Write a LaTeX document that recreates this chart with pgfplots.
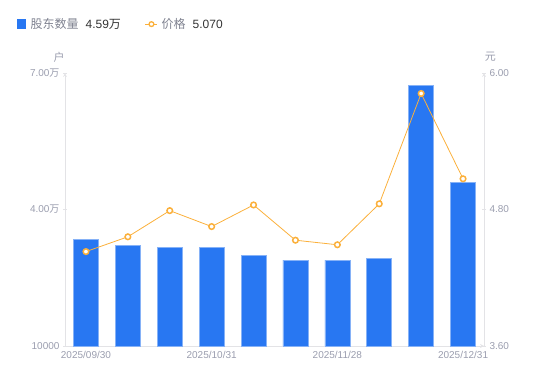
\documentclass[border=0pt]{standalone}
\usepackage{pgfplots}
\pgfplotsset{compat=1.18}
\usepackage{fontspec}
\setmainfont{Liberation Sans}
\newfontfamily\cjk{Noto Sans CJK SC}
\definecolor{barblue}{HTML}{2877F2}
\definecolor{baredge}{HTML}{86B2F7}
\definecolor{lineor}{HTML}{FBB03B}
\definecolor{tickgray}{HTML}{9A9DAE}
\definecolor{axgray}{HTML}{E3E3E6}
\definecolor{legtext}{HTML}{7F8290}
\definecolor{valtext}{HTML}{333333}
\pgfplotstableread{
x holders price
0 33500 4.43
1 32100 4.56
2 31700 4.79
3 31600 4.65
4 30000 4.84
5 28900 4.53
6 28900 4.49
7 29300 4.85
8 67200 5.82
9 45900 5.07
}\datatable
\begin{document}
\begin{tikzpicture}
\path[use as bounding box] (0,0) rectangle (550pt,381pt);
\pgfplotsset{
  common/.style={
    scale only axis, width=419pt, height=273pt,
    at={(65pt,35pt)}, anchor=south west,
    xmin=-0.5, xmax=9.5, clip=false,
    axis line style={draw=axgray, line width=0.8pt, -},
    tick align=outside, major tick length=4pt,
    tick style={draw=axgray, line width=0.8pt},
    ticklabel style={font=\fontsize{10}{12}\selectfont, text=tickgray},
    scaled y ticks=false,
    /pgf/number format/assume math mode=true,
  }
}
\begin{axis}[common,
  axis y line=left, axis x line=bottom,
  ymin=10000, ymax=70000,
  ytick={10000,40000,70000},
  yticklabels={10000,{4.00{\cjk 万}},{7.00{\cjk 万}}},
  xtick={0,3,6,9},
  xticklabels={2025/09/30,2025/10/31,2025/11/28,2025/12/31},
  xtick style={draw=none},
  legend columns=2,
  legend style={at={(-0.115,1.179)}, anchor=west, draw=none, fill=none,
    font=\fontsize{12}{14}\selectfont, inner sep=0pt,
    /tikz/every even column/.append style={column sep=22pt}},
]
\addplot[ybar, bar width=25pt, bar shift=0pt, fill=barblue, draw=baredge, line width=0.6pt,
  legend image code/.code={\fill[barblue] (0pt,-4.5pt) rectangle (8pt,4.5pt); \path (11pt,0pt);}]
  table[x=x, y=holders] {\datatable};
\addlegendentry{{\cjk\color{legtext}股东数量}\hspace{7pt}{\color{valtext}4.59{\cjk 万}}}
\addlegendimage{legend image code/.code={\draw[lineor, line width=1pt] (0pt,0pt) -- (12pt,0pt); \draw[lineor, fill=white, line width=1.3pt] (6pt,0pt) circle (2.4pt); \path (14pt,0pt);}}
\addlegendentry{{\cjk\color{legtext}价格}\hspace{7pt}{\color{valtext}5.070}}
\node[font=\cjk\fontsize{11}{13}\selectfont, text=tickgray] at (rel axis cs:-0.014,1.059) {户};
\end{axis}
\begin{axis}[common,
  axis y line=right, axis x line=none,
  ymin=3.6, ymax=6.0,
  ytick={3.6,4.8,6.0},
  yticklabels={3.60,4.80,6.00},
]
\addplot[lineor, line width=0.8pt, mark=*, mark size=2.8pt,
  mark options={fill=white, draw=lineor, line width=1.5pt}]
  table[x=x, y=price] {\datatable};
\node[font=\cjk\fontsize{11}{13}\selectfont, text=tickgray] at (rel axis cs:1.015,1.059) {元};
\end{axis}
\end{tikzpicture}
\end{document}
